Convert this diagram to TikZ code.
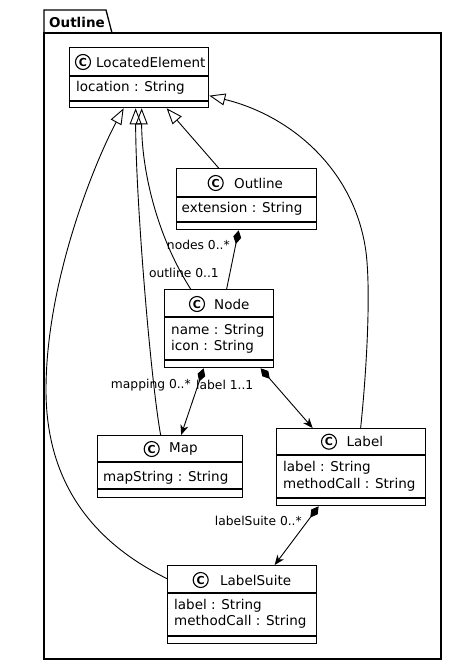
\documentclass[tikz,border=0pt]{standalone}
\usepackage{fontspec}
\setmainfont{DejaVu Sans}
\usetikzlibrary{arrows.meta,positioning,calc}
\tikzset{
  classbox/.style={draw, rectangle, line width=1.3pt, anchor=north west, inner sep=0pt},
  clsname/.style={anchor=west, inner sep=0pt, font=\fontsize{13.5}{16}\selectfont},
  cicon/.style={draw, circle, line width=1.1pt, minimum size=15pt, inner sep=0pt, font=\fontsize{11}{11}\selectfont\bfseries},
  attr/.style={anchor=west, inner sep=0pt, align=left, font=\fontsize{13.5}{16.5}\selectfont},
  rolelbl/.style={inner sep=0pt, font=\fontsize{12.3}{14}\selectfont},
  extends/.style={line width=0.9pt, -{Triangle[open, length=16pt, width=12pt, line width=0.9pt]}},
  owns/.style={line width=0.9pt, {Diamond[length=14pt, width=8pt]}-},
  ownsto/.style={line width=0.9pt, {Diamond[length=14pt, width=8pt]}-{Stealth[length=10pt, width=8pt, inset=3pt]}}
}

\begin{document}
\begin{tikzpicture}[x=1pt, y=-1pt]
  \useasboundingbox (0,0) rectangle (457,665);

  % package frame
  \draw[line width=1.3pt] (44,33) rectangle (441,659);
  \draw[line width=1.3pt] (44,33) -- (44,10) -- (106,10) -- (112,33);
  \node[anchor=west, inner sep=0pt, font=\fontsize{13.5}{16}\selectfont\bfseries] (pkgtitle) at (49,22.5) {Outline};

  % classes
  \node[classbox, minimum width=139pt, minimum height=60pt] (located) at (69,47) {};
  \node[cicon] (locatedc) at (83,62) {C};
  \node[clsname] (locatedname) at (96,62) {LocatedElement};
  \node[attr] (locatedattr) at (76,88) {location : String};

  \node[classbox, minimum width=140pt, minimum height=61pt] (outline) at (176,168) {};
  \node[cicon] (outlinec) at (215.7,183) {C};
  \node[clsname] (outlinename) at (234,183) {Outline};
  \node[attr] (outlineattr) at (181.5,209) {extension : String};

  \node[classbox, minimum width=109pt, minimum height=78pt] (node) at (164,289) {};
  \node[cicon] (nodec) at (197,304) {C};
  \node[clsname] (nodename) at (214,304) {Node};
  \node[attr] (nodeattr) at (171,339) {name : String\\icon : String};

  \node[classbox, minimum width=145pt, minimum height=62pt] (map) at (97,435) {};
  \node[cicon] (mapc) at (151.7,449) {C};
  \node[clsname] (mapname) at (169,449) {Map};
  \node[attr] (mapattr) at (103,477.5) {mapString : String};

  \node[classbox, minimum width=149pt, minimum height=77pt] (label) at (276,428) {};
  \node[cicon] (labelc) at (329,441.7) {C};
  \node[clsname] (labelname) at (346.5,441.7) {Label};
  \node[attr] (labelattr) at (283,476.5) {label : String\\methodCall : String};

  \node[classbox, minimum width=149pt, minimum height=78pt] (labelsuite) at (167,565) {};
  \node[cicon] (labelsuitec) at (200.7,580) {C};
  \node[clsname] (labelsuitename) at (220,580) {LabelSuite};
  \node[attr] (labelsuiteattr) at (174,614) {label : String\\methodCall : String};

  \foreach \b/\y in {located/76, located/101, outline/197, outline/222, node/317, node/360,
                     map/462, map/489, label/455, label/498, labelsuite/593, labelsuite/636}
    \draw[line width=1.3pt] (\b.west |- 0,\y) -- (\b.east |- 0,\y);

  % generalisations
  \coordinate (suitebend) at (46,390);
  \coordinate (labelbend) at (366,252);
  \draw[extends] ([xshift=-28pt]outline.north) -- ([xshift=27.5pt]located.south);
  \draw[extends] ([xshift=-28.5pt]node.north) .. controls +(-35,-55) and +(0,60) .. ([xshift=2.5pt]located.south);
  \draw[extends] ([xshift=-9.5pt]map.north) .. controls +(-10,-55) and +(0,90) .. ([xshift=-3.5pt]located.south);
  \draw[extends] ([yshift=26pt]labelsuite.west) .. controls +(-77,-38) and +(0,90) .. (suitebend)
    .. controls +(0,-110) and +(-28,52) .. ([xshift=-15.5pt]located.south);
  \draw[extends] ([xshift=9.5pt]label.north) .. controls +(6,-58) and +(5,40) .. (labelbend)
    .. controls +(-11,-82) and +(82,20) .. ([yshift=-18pt]located.east);

  % compositions
  \draw[owns] ([xshift=-8pt]outline.south) -- ([xshift=7.5pt]node.north);
  \draw[ownsto] ([xshift=-15.5pt]node.south) -- ([xshift=11pt]map.north);
  \draw[ownsto] ([xshift=41.5pt]node.south) -- ([xshift=-38.5pt]label.north);
  \draw[ownsto] ([xshift=-32.5pt]label.south) -- ([xshift=32.5pt]labelsuite.north);

  \node[rolelbl, anchor=east] (nodesrole) at (230,245) {nodes 0..*};
  \node[rolelbl, anchor=east] (outlinerole) at (219,273) {outline 0..1};
  \node[rolelbl, anchor=east] (mappingrole) at (191,385) {mapping 0..*};
  \node[rolelbl, anchor=west] (labelrole) at (196,385) {label 1..1};
  \node[rolelbl, anchor=east] (suiterole) at (302,521) {labelSuite 0..*};
\end{tikzpicture}
\end{document}
